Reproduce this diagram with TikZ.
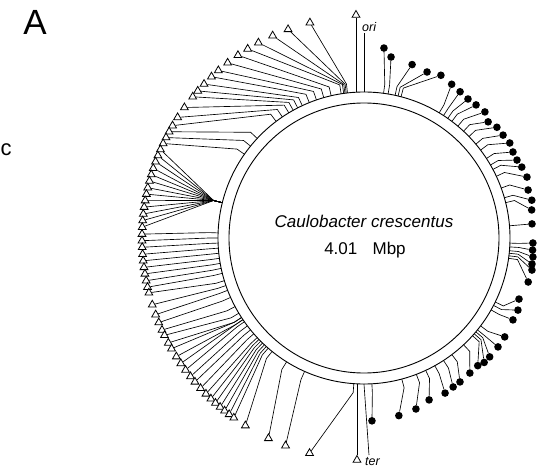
\documentclass[tikz,border=0pt]{standalone}
\usepackage{fontspec}
\setmainfont{Liberation Sans}
\usetikzlibrary{shapes.geometric}
\pgfdeclarelayer{bg}
\pgfsetlayers{bg,main}
\begin{document}
\begin{tikzpicture}[x=1pt,y=1pt,
  ring/.style={line width=0.9pt},
  conn/.style={line width=0.65pt},
  tri/.style={regular polygon, regular polygon sides=3, draw, fill=white,
    line width=0.8pt, minimum size=9pt, inner sep=0pt},
  dot/.style={circle, fill=black, minimum size=7.6pt, inner sep=0pt},
  lbl/.style={inner sep=0pt, font=\itshape\fontsize{12.5}{12.5}\selectfont}
]
\useasboundingbox (-364,-234) rectangle (180,238);
\coordinate (C) at (0,0);
\draw[ring] (C) circle[radius=146];
\draw[ring] (C) circle[radius=135];

% triangles (marker angle / genomic angle)
\foreach \m/\g [count=\i] in {
  104.1/96.5, 110.0/97, 114.3/97.5, 118.4/98, 121.6/99, 124.6/103,
  127.9/106, 131.0/109, 133.4/112, 136.1/115, 138.5/117, 140.5/119,
  144.0/121, 147.1/124, 149.6/127, 151.4/137, 153.1/141, 154.8/145,
  156.5/166, 158.2/166, 159.9/166, 161.7/166, 163.4/166, 165.1/166,
  166.9/166, 168.6/166, 170.3/166, 172.0/166, 173.8/166, 175.5/166,
  177.2/166,
  179.0/178, 180.7/180, 182.4/182, 184.2/184, 185.9/186, 187.6/188,
  189.3/190, 191.1/192, 192.8/194,
  194.3/197, 197.5/199, 200.2/201, 202.4/204, 204.5/208, 206.0/211,
  208.2/213, 209.9/213, 212.3/214, 214.4/214, 216.5/215, 218.6/217,
  220.4/219, 222.6/221, 224.6/223, 226.4/224, 228.0/225, 229.6/226,
  231.1/227, 232.6/228, 234.1/229, 237.7/231, 244.5/238, 249.3/246,
  255.8/266}{
  \node[tri] (t\i) at (\m:222) {};
  \coordinate (tg\i) at (\g:146);
  \coordinate (ts\i) at (\g:155);
  \begin{pgfonlayer}{bg}
    \draw[conn] (tg\i) -- (ts\i) -- (t\i);
  \end{pgfonlayer}
}

% filled circles (marker angle / radius / genomic angle)
\foreach \m/\r/\g [count=\i] in {
  84.0/191/82.3, 81.5/183/80.5, 74.5/180/77.7, 69.2/177.6/76.5,
  64.7/180/75.3, 60.3/177/59, 56.7/175/57, 53.2/173.6/55, 49.9/174/53,
  46.2/174.7/50, 43.1/170/47, 39.8/173/44, 36.5/173/40, 33.1/174/37,
  30.0/172/33, 27.0/171.7/30, 24.2/173/28, 20.5/174/25, 16.3/171/20,
  12.7/172/16, 9.5/170/14, 4.8/168.6/4.8, -1.7/169/-2, -4.1/169/-3.5,
  -6.4/170/-5, -8.8/170/-6, -10.8/171/-7, -15.0/170/-8, -21.5/166.6/-26,
  -25.1/170/-27.5, -28.8/170/-29.5, -35.1/172/-37, -39.1/172.7/-39,
  -43.4/173/-40, -46.0/173/-41, -48.3/171/-42, -51.9/171.6/-47,
  -56.3/173/-53, -59.1/173.6/-57, -62.4/175/-61, -68.1/174.5/-65,
  -73.1/178.7/-69, -78.9/181/-75, -87.5/183/-86.9}{
  \node[dot] (c\i) at (\m:\r) {};
  \coordinate (cg\i) at (\g:146);
  \coordinate (cs\i) at (\g:155);
  \begin{pgfonlayer}{bg}
    \draw[conn] (cg\i) -- (cs\i) -- (c\i);
  \end{pgfonlayer}
}

% ori
\node[tri] (tori) at (-8,223) {};
\coordinate (gori) at (-8,145.8);
\begin{pgfonlayer}{bg}\draw[conn] (gori) -- (tori);\end{pgfonlayer}
\coordinate (oribase) at (0,146);
\coordinate (oritop) at (0,205);
\draw[conn] (oribase) -- (oritop);
\node[lbl, anchor=base west] (orilbl) at (-2,207) {ori};

% ter
\node[tri] (tter) at (-7,-222) {};
\coordinate (gter) at (-7,-145.8);
\begin{pgfonlayer}{bg}\draw[conn] (gter) -- (tter);\end{pgfonlayer}
\coordinate (terbase) at (0,-146);
\coordinate (terend) at (5,-217);
\draw[conn] (terbase) -- (terend);
\node[lbl, anchor=north west] (terlbl) at (1,-219) {ter};

% texts
\node[inner sep=0pt, anchor=base, font=\itshape\fontsize{17}{17}\selectfont]
  (name) at (0,11) {Caulobacter crescentus};
\node[inner sep=0pt, anchor=base, font=\fontsize{17}{17}\selectfont]
  (size) at (1,-16) {4.01\hspace{0.9em}Mbp};
\node[font=\fontsize{35}{35}\selectfont] (A) at (-329,215.5) {A};
\node[inner sep=0pt, anchor=west, font=\fontsize{22}{22}\selectfont] (frag) at (-363.5,88) {c};
\end{tikzpicture}
\end{document}
